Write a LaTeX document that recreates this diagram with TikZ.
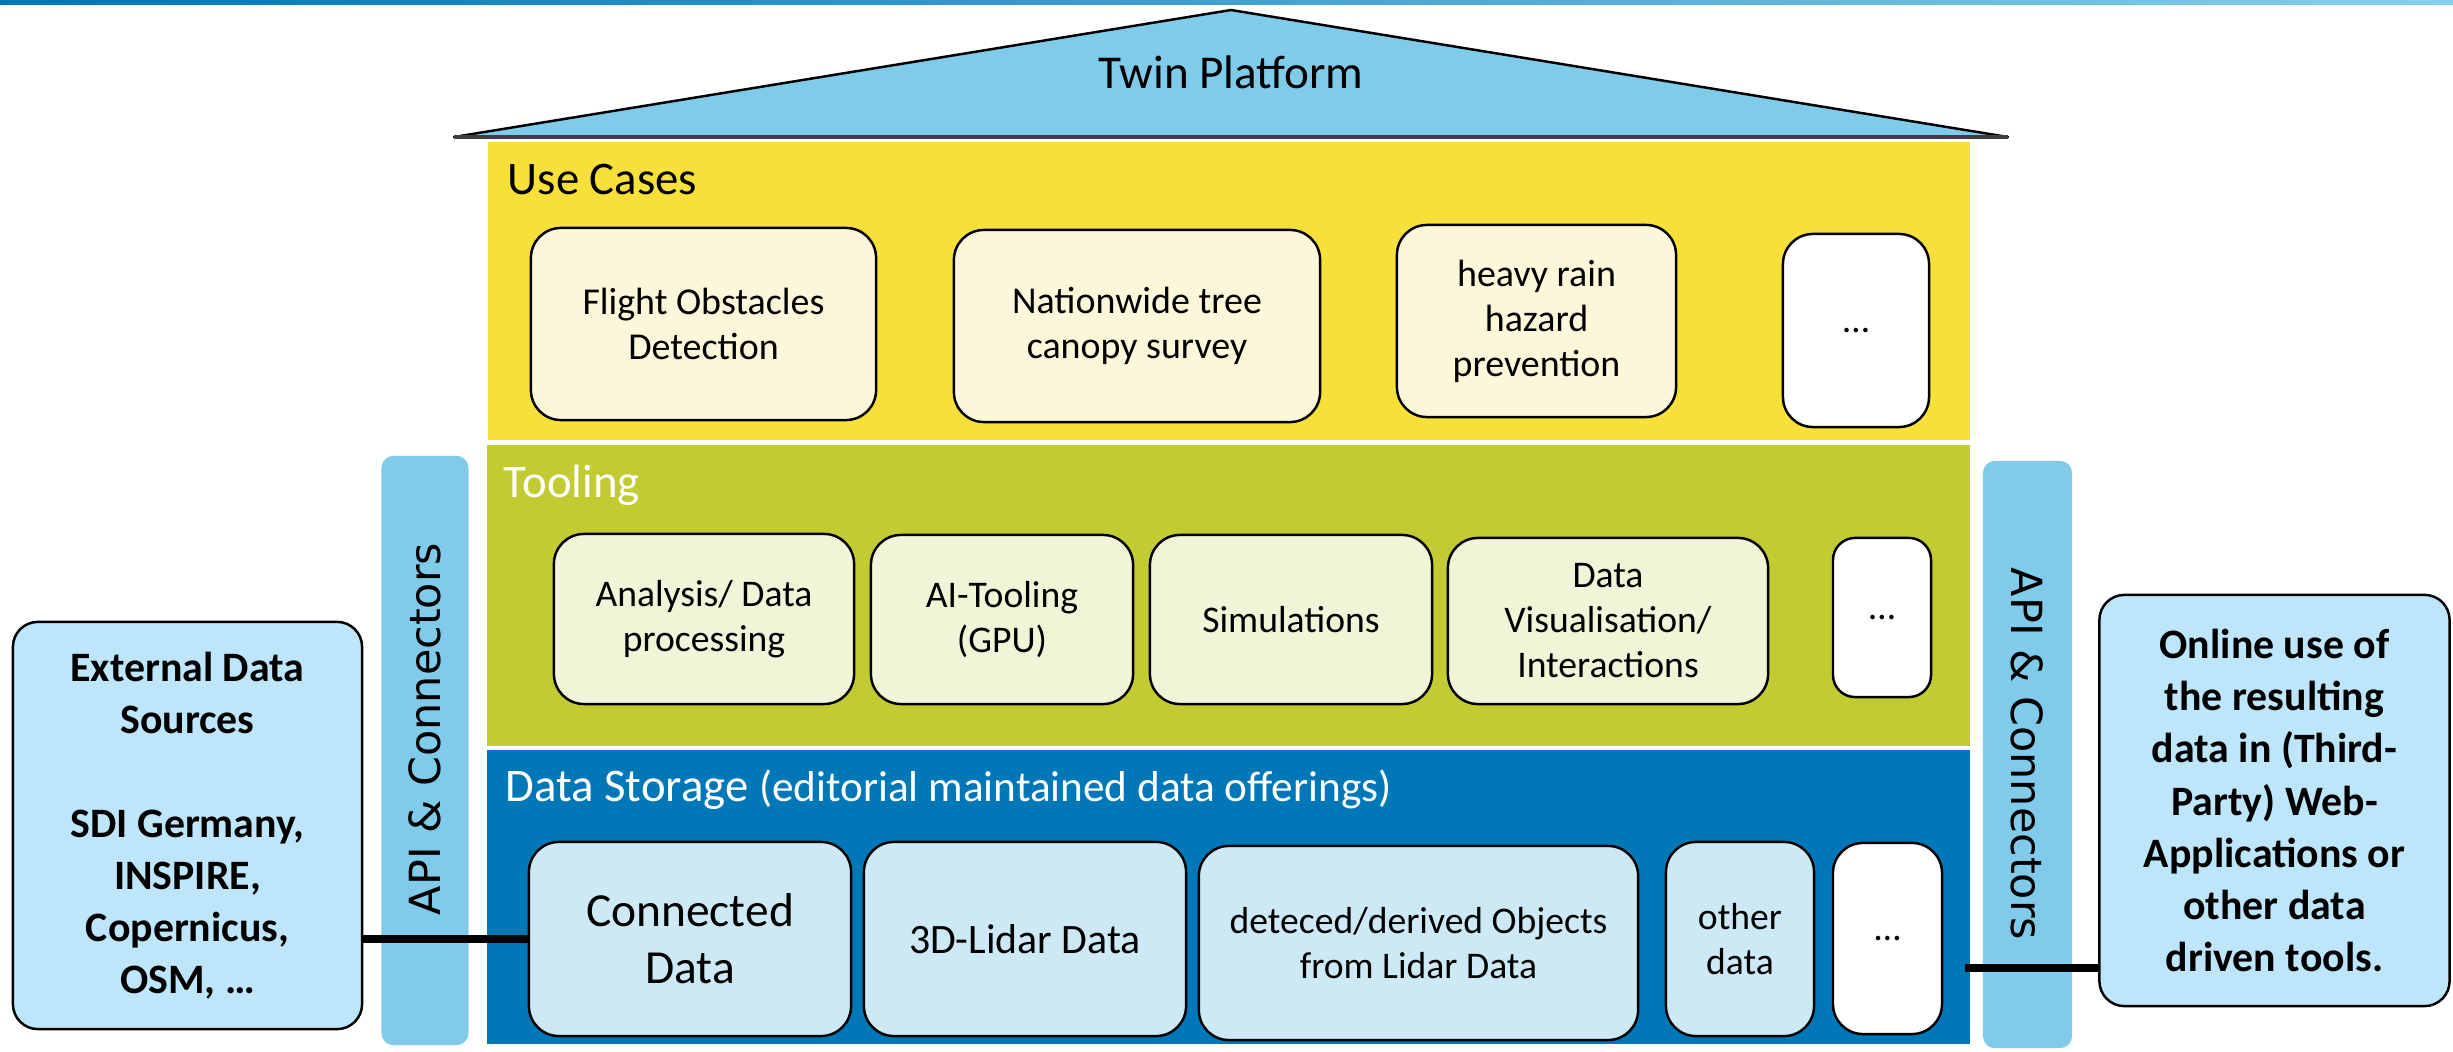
\documentclass[tikz,border=0pt]{standalone}
\usepackage{fontspec}
\setmainfont{Carlito}
\newfontfamily\apifont{DejaVu Sans}

\definecolor{topdark}{HTML}{0072B4}
\definecolor{toplight}{HTML}{86CFEC}
\definecolor{roofblue}{HTML}{80CBEA}
\definecolor{ucyellow}{HTML}{F8E03B}
\definecolor{toolgreen}{HTML}{C2CB31}
\definecolor{storeblue}{HTML}{0078B8}
\definecolor{ucfill}{HTML}{FDF7DA}
\definecolor{toolfill}{HTML}{F2F4D7}
\definecolor{datafill}{HTML}{CDE9F5}
\definecolor{extfill}{HTML}{BEE6FA}

\begin{document}
\begin{tikzpicture}[x=0.01cm, y=-0.01cm,
  rbox/.style={draw=black, line width=0.7pt, rounded corners=0.3cm,
    align=center, inner sep=0pt},
  ucbox/.style={rbox, fill=ucfill, font=\fontsize{10.8}{12.8}\selectfont},
  toolbox/.style={rbox, fill=toolfill, font=\fontsize{10.7}{12.8}\selectfont},
  databox/.style={rbox, fill=datafill, font=\fontsize{10.7}{12.6}\selectfont},
  morebox/.style={rbox, fill=white, font=\fontsize{10.7}{12.6}\selectfont},
  sidebox/.style={rbox, fill=extfill, rounded corners=0.25cm,
    font=\fontsize{11.9}{14.8}\selectfont\bfseries},
  apibar/.style={fill=roofblue, rounded corners=0.12cm, inner sep=0pt,
    minimum width=0.87cm},
  apitext/.style={font=\apifont\fontsize{12.2}{14}\selectfont, inner sep=0pt},
  layerlabel/.style={anchor=base west, inner sep=0pt,
    font=\fontsize{13.3}{16}\selectfont},
  link/.style={line width=2.1pt, draw=black}
]
\useasboundingbox (0,0) rectangle (2453,1052);

% gradient strip along the top edge
\shade[left color=topdark, right color=toplight] (0,0) rectangle (2453,5);

% roof
\draw[fill=roofblue, line width=0.7pt, line join=round] (454,137) -- (1231,10) -- (2008,137) -- cycle;
\draw[line width=1.4pt, draw=black!75] (454,137) -- (2008,137);
\node[anchor=base, inner sep=0pt, font=\fontsize{13.4}{16}\selectfont] (roof) at (1231,89) {Twin Platform};

% the three layers
\fill[ucyellow] (488,142) rectangle (1970,440);
\fill[toolgreen] (487,445) rectangle (1970,746);
\fill[storeblue] (487,750) rectangle (1970,1044);

\node[layerlabel] (uclabel) at (507,195) {Use Cases};
\node[layerlabel, text=white] (toollabel) at (503,498) {Tooling};
\node[layerlabel, text=white] (storelabel) at (505,801) {Data Storage \fontsize{12.3}{14}\selectfont(editorial maintained data offerings)};

% use cases
\node[ucbox, minimum width=3.45cm, minimum height=1.92cm] (uc1) at (703.5,324) {Flight Obstacles\\Detection};
\node[ucbox, minimum width=3.66cm, minimum height=1.92cm] (uc2) at (1137,326) {Nationwide tree\\canopy survey};
\node[ucbox, minimum width=2.79cm, minimum height=1.92cm] (uc3) at (1536.5,321) {heavy rain\\hazard\\prevention};
\node[morebox, minimum width=1.46cm, minimum height=1.93cm] (uc4) at (1856,330.5) {\dots};

% tooling
\node[toolbox, minimum width=3.00cm, minimum height=1.70cm] (t1) at (704,619) {Analysis/ Data\\processing};
\node[toolbox, minimum width=2.62cm, minimum height=1.69cm] (t2) at (1002,619.5) {AI-Tooling\\(GPU)};
\node[toolbox, minimum width=2.82cm, minimum height=1.69cm] (t3) at (1291,619.5) {Simulations};
\node[toolbox, minimum width=3.20cm, minimum height=1.66cm] (t4) at (1608,621) {Data\\Visualisation/\\Interactions};
\node[morebox, minimum width=0.98cm, minimum height=1.59cm, rounded corners=0.22cm] (t5) at (1882,617.5) {\dots};

% data storage
\node[databox, minimum width=3.22cm, minimum height=1.94cm, font=\fontsize{13.5}{16.2}\selectfont] (d1) at (690,939) {Connected\\Data};
\node[databox, minimum width=3.22cm, minimum height=1.94cm, font=\fontsize{11.9}{14}\selectfont] (d2) at (1025,939) {3D-Lidar Data};
\node[databox, minimum width=4.39cm, minimum height=1.94cm] (d3) at (1418.5,943) {deteced/derived Objects\\from Lidar Data};
\node[databox, minimum width=1.48cm, minimum height=1.94cm] (d4) at (1740,939) {other\\data};
\node[morebox, minimum width=1.09cm, minimum height=1.91cm] (d5) at (1887.5,938.5) {\dots};

% interface bars
\node[apibar, minimum height=5.89cm] (apil) at (425,750.5) {};
\node[apitext, rotate=90] (apiltext) at (425,729) {API \& Connectors};
\node[apibar, minimum height=5.87cm, minimum width=0.89cm] (apir) at (2027.5,754.5) {};
\node[apitext, rotate=-90] (apirtext) at (2027.5,754) {API \& Connectors};

% outside boxes
\node[sidebox, minimum width=3.49cm, minimum height=4.07cm] (ext) at (187.5,825.5)
  {External Data\\Sources\\[14.8pt]SDI Germany,\\INSPIRE,\\Copernicus,\\OSM, \dots};
\node[sidebox, minimum width=3.50cm, minimum height=4.11cm] (out) at (2274.5,800.5)
  {Online use of\\the resulting\\data in (Third-\\Party) Web-\\Applications or\\other data\\driven tools.};

% connections
\draw[link] (ext.east |- d1.west) -- (d1.west);
\coordinate (storeout) at (1965,968);
\draw[link] (storeout) -- (storeout -| out.west);
\end{tikzpicture}
\end{document}
